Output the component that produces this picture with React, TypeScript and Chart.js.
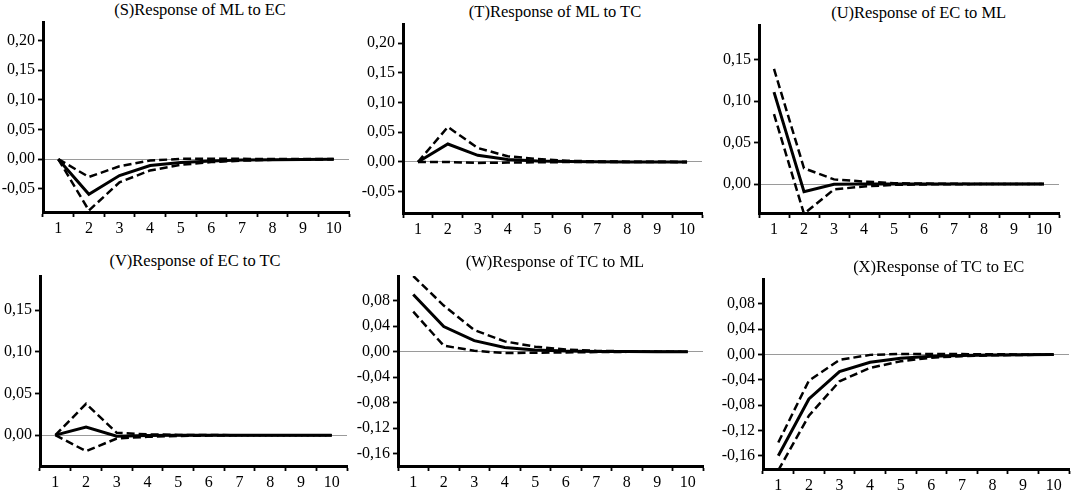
import React, { useEffect, useRef } from "react";
import { Chart, registerables } from "chart.js";

Chart.register(...registerables);

// ---------- data ----------
const periods = ["1", "2", "3", "4", "5", "6", "7", "8", "9", "10"];

const sResp = [0, -0.059, -0.0276, -0.0108, -0.0057, -0.003, -0.0015, -0.0008, -0.0004, -0.0002];
const sUpper = [0, -0.03, -0.012, -0.0024, 0.0005, 0.0008, 0.0005, 0.0003, 0.0002, 0.0001];
const sLower = [0, -0.0865, -0.039, -0.019, -0.0096, -0.005, -0.0025, -0.0012, -0.0006, -0.0003];

const tResp = [0, 0.0303, 0.0112, 0.004, 0.0015, 0.0006, 0.0002, 0.0001, 0, 0];
const tUpper = [0, 0.059, 0.0236, 0.0096, 0.005, 0.002, 0.001, 0.0005, 0.0002, 0.0001];
const tLower = [0, 0, -0.0017, -0.001, -0.0005, -0.0002, -0.0001, 0, 0, 0];

const uResp = [0.111, -0.0093, -0.0004, 0, 0, 0, 0, 0, 0, 0];
const uUpper = [0.139, 0.019, 0.0056, 0.003, 0.001, 0.0005, 0.0002, 0.0001, 0, 0];
const uLower = [0.0843, -0.036, -0.0065, -0.003, -0.001, -0.0005, -0.0002, -0.0001, 0, 0];

const vResp = [0, 0.0096, -0.0012, -0.0005, -0.0002, -0.0001, 0, 0, 0, 0];
const vUpper = [0, 0.0376, 0.0028, 0.001, 0.0003, 0.0001, 0, 0, 0, 0];
const vLower = [0, -0.0192, -0.004, -0.002, -0.001, -0.0005, -0.0002, -0.0001, 0, 0];

const wResp = [0.09, 0.0395, 0.0174, 0.0068, 0.0026, 0.001, 0.0005, 0.0002, 0.0001, 0];
const wUpper = [0.119, 0.0726, 0.034, 0.0163, 0.0079, 0.0035, 0.0015, 0.0007, 0.0003, 0.0001];
const wLower = [0.063, 0.0095, 0.0016, -0.002, -0.0016, -0.001, -0.0005, -0.0002, -0.0001, 0];

const xResp = [-0.16, -0.0703, -0.027, -0.0122, -0.0058, -0.0028, -0.0013, -0.0006, -0.0003, -0.0001];
const xUpper = [-0.139, -0.0412, -0.0085, -0.0005, 0.001, 0.001, 0.0007, 0.0004, 0.0002, 0.0001];
const xLower = [-0.183, -0.0967, -0.0423, -0.0211, -0.0106, -0.005, -0.0025, -0.0012, -0.0006, -0.0003];

// y tick labels
const ticksTop = [-0.05, 0, 0.05, 0.1, 0.15, 0.2];
const ticksSmall = [0, 0.05, 0.1, 0.15];
const ticksBottom = [-0.16, -0.12, -0.08, -0.04, 0, 0.04, 0.08];

// y ranges
const rangeS = [-0.089, 0.231];
const rangeT = [-0.086, 0.2325];
const rangeU = [-0.035, 0.192];
const rangeV = [-0.037, 0.191];
const rangeW = [-0.1795, 0.119];
const rangeX = [-0.181, 0.1195];

const titles = [
  "(S)Response of ML to EC",
  "(T)Response of ML to TC",
  "(U)Response of EC to ML",
  "(V)Response of EC to TC",
  "(W)Response of TC to ML",
  "(X)Response of TC to EC",
];

// ---------- layout ----------
const YW = 52; // y-axis width
const PT = 16; // top padding
const PR = 10; // right padding
const XH = 34; // x-axis height

type PanelDef = {
  title: string;
  resp: number[];
  upper: number[];
  lower: number[];
  ticks: number[];
  range: number[];
  x0: number;
  y0: number;
  x1: number;
  y1: number;
  tx: number;
  ty: number;
};

const panels: PanelDef[] = [
  { title: titles[0], resp: sResp, upper: sUpper, lower: sLower, ticks: ticksTop, range: rangeS, x0: 43, y0: 22, x1: 349, y1: 212, tx: 200, ty: 9.5 },
  { title: titles[1], resp: tResp, upper: tUpper, lower: tLower, ticks: ticksTop, range: rangeT, x0: 403, y0: 24, x1: 702, y1: 213, tx: 555, ty: 11.7 },
  { title: titles[2], resp: uResp, upper: uUpper, lower: uLower, ticks: ticksSmall, range: rangeU, x0: 759, y0: 25, x1: 1059, y1: 213, tx: 918.7, ty: 12.7 },
  { title: titles[3], resp: vResp, upper: vUpper, lower: vLower, ticks: ticksSmall, range: rangeV, x0: 40, y0: 276, x1: 347, y1: 466, tx: 195, ty: 260.7 },
  { title: titles[4], resp: wResp, upper: wUpper, lower: wLower, ticks: ticksBottom, range: rangeW, x0: 398, y0: 276, x1: 703, y1: 466, tx: 555, ty: 262 },
  { title: titles[5], resp: xResp, upper: xUpper, lower: xLower, ticks: ticksBottom, range: rangeX, x0: 763, y0: 279, x1: 1069, y1: 469, tx: 938.7, ty: 267 },
];

const FONT = "'Liberation Serif', 'Times New Roman', serif";

function fmt(v: number) {
  const s = Math.abs(v).toFixed(2).replace(".", ",");
  return (v < -1e-9 ? "-" : "") + s;
}

function Panel({ p }: { p: PanelDef }) {
  const ref = useRef<HTMLCanvasElement>(null);
  const left = p.x0 - YW;
  const top = p.y0 - PT;
  const width = p.x1 - p.x0 + YW + PR;
  const height = p.y1 - p.y0 + PT + XH;

  useEffect(() => {
    const dashed = {
      borderColor: "#000",
      borderWidth: 2.5,
      borderDash: [8, 4],
      pointRadius: 0,
      fill: false,
      tension: 0,
    };
    const chart = new Chart(ref.current!, {
      type: "line",
      data: {
        labels: periods,
        datasets: [
          { ...dashed, data: p.upper, order: 2 },
          { ...dashed, data: p.lower, order: 3 },
          {
            data: p.resp,
            borderColor: "#000",
            borderWidth: 3,
            pointRadius: 0,
            fill: false,
            tension: 0,
            order: 1,
          },
        ],
      },
      options: {
        animation: false,
        responsive: false,
        events: [],
        layout: { padding: { top: PT, right: PR, left: 0, bottom: 0 } },
        plugins: {
          legend: { display: false },
          tooltip: { enabled: false },
          title: { display: false },
        },
        scales: {
          x: {
            type: "category",
            offset: true,
            grid: {
              offset: true,
              drawOnChartArea: false,
              drawTicks: true,
              tickLength: 5,
              tickColor: "#000",
              tickWidth: 1.8,
            },
            border: { display: true, color: "#000", width: 3 },
            ticks: {
              color: "#000",
              font: { family: FONT, size: 16 },
              padding: 2,
              maxRotation: 0,
              autoSkip: false,
            },
            afterFit: (s: any) => {
              s.height = XH;
            },
          },
          y: {
            type: "linear",
            min: p.range[0],
            max: p.range[1],
            afterBuildTicks: (s: any) => {
              s.ticks = p.ticks.map((v) => ({ value: v }));
            },
            grid: {
              drawOnChartArea: true,
              drawTicks: true,
              color: (ctx: any) =>
                ctx.tick && Math.abs(ctx.tick.value) < 1e-9 ? "#9a9a9a" : "rgba(0,0,0,0)",
              lineWidth: 1,
              tickColor: "#000",
              tickLength: 5,
              tickWidth: 1.8,
            },
            border: { display: true, color: "#000", width: 3 },
            ticks: {
              color: "#000",
              font: { family: FONT, size: 16 },
              padding: 3,
              callback: (v: any) => fmt(Number(v)),
            },
            afterFit: (s: any) => {
              s.width = YW;
            },
          },
        },
      },
    } as any);
    return () => chart.destroy();
  }, []);

  return (
    <>
      <div
        style={{
          position: "absolute",
          left: p.tx - 150,
          top: p.ty - 10,
          width: 300,
          height: 20,
          lineHeight: "20px",
          textAlign: "center",
          fontFamily: FONT,
          fontSize: "16.5px",
          color: "#000",
          whiteSpace: "nowrap",
        }}
      >
        {p.title}
      </div>
      <canvas
        ref={ref}
        width={width}
        height={height}
        style={{ position: "absolute", left, top, width, height }}
      />
    </>
  );
}

export default function App() {
  return (
    <div
      style={{
        position: "absolute",
        left: 0,
        top: 0,
        width: 1072,
        height: 494,
        overflow: "hidden",
        background: "#fff",
      }}
    >
      {panels.map((p, i) => (
        <Panel key={i} p={p} />
      ))}
    </div>
  );
}
